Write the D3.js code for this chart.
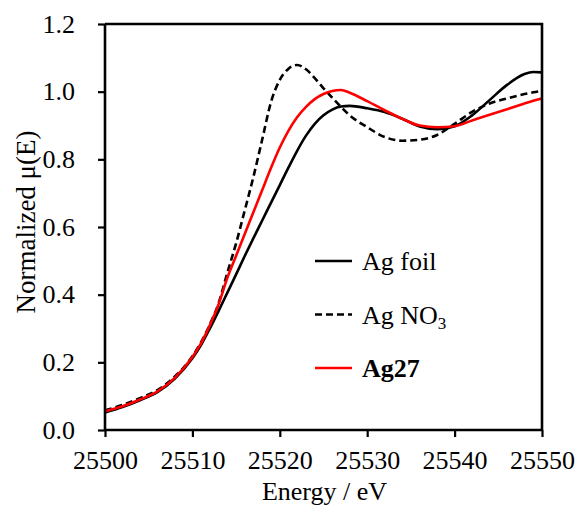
<!DOCTYPE html>
<html>
<head>
<meta charset="utf-8">
<script src="https://cdn.jsdelivr.net/npm/d3@7"></script>
<style>
  body { margin: 0; background: #fff; }
  svg { display: block; }
</style>
</head>
<body>
<div class="main"></div>
<script>
// energy grid (eV) and normalized mu(E)
var energy = [25500, 25502, 25504, 25506, 25508, 25510, 25511, 25512, 25513, 25514,
  25515, 25516, 25517, 25518, 25519, 25520, 25521, 25522, 25523, 25524,
  25525, 25526, 25527, 25528, 25530, 25532, 25534, 25536, 25538, 25540,
  25542, 25544, 25546, 25548, 25549, 25550];

var agFoil = [0.052, 0.068, 0.088, 0.112, 0.152, 0.212, 0.252, 0.300, 0.352, 0.406,
  0.460, 0.515, 0.568, 0.620, 0.672, 0.724, 0.776, 0.826, 0.870, 0.905,
  0.930, 0.947, 0.956, 0.958, 0.951, 0.940, 0.920, 0.897, 0.889, 0.898,
  0.930, 0.975, 1.020, 1.052, 1.058, 1.057];

var agNO3 = [0.058, 0.074, 0.094, 0.118, 0.158, 0.218, 0.260, 0.312, 0.375, 0.465,
  0.552, 0.650, 0.750, 0.860, 0.970, 1.035, 1.068, 1.079, 1.066, 1.040,
  1.010, 0.982, 0.955, 0.930, 0.895, 0.866, 0.855, 0.858, 0.872, 0.905,
  0.940, 0.965, 0.980, 0.993, 0.998, 1.002];

var ag27 = [0.055, 0.070, 0.090, 0.114, 0.155, 0.216, 0.257, 0.310, 0.372, 0.450,
  0.515, 0.580, 0.645, 0.710, 0.775, 0.835, 0.885, 0.925, 0.955, 0.978,
  0.993, 1.002, 1.005, 0.997, 0.972, 0.945, 0.920, 0.900, 0.895, 0.898,
  0.915, 0.932, 0.948, 0.965, 0.973, 0.980];

var xTicks = [25500, 25510, 25520, 25530, 25540, 25550];
var yTicks = [0.0, 0.2, 0.4, 0.6, 0.8, 1.0, 1.2];

var series = [
  { name: "Ag foil", values: agFoil, color: "#000", dash: null, bold: false },
  { name: "Ag NO", sub: "3", values: agNO3, color: "#000", dash: "7,4", bold: false },
  { name: "Ag27", values: ag27, color: "#ff0000", dash: null, bold: true }
];

var margin = { top: 24, right: 35, bottom: 78, left: 105 };
var fullwidth = 577, fullheight = 508;
var width = fullwidth - margin.left - margin.right;
var height = fullheight - margin.top - margin.bottom;
var fontFamily = "Liberation Serif";
var fontSize = 26;

var svg = d3.select(".main")
  .append("svg")
  .attr("width", fullwidth)
  .attr("height", fullheight)
  .attr("font-family", fontFamily)
  .append("g")
  .attr("transform", "translate(" + margin.left + "," + margin.top + ")");

var x = d3.scaleLinear().domain([25500, 25550]).range([0, width]);
var y = d3.scaleLinear().domain([0, 1.2]).range([height, 0]);

// curves
var line = d3.line()
  .x(function(d) { return x(d[0]); })
  .y(function(d) { return y(d[1]); })
  .curve(d3.curveMonotoneX);

series.forEach(function(s) {
  svg.append("path")
    .datum(energy.map(function(e, i) { return [e, s.values[i]]; }))
    .attr("fill", "none")
    .attr("stroke", s.color)
    .attr("stroke-width", 2.6)
    .attr("stroke-dasharray", s.dash)
    .attr("d", line);
});

// frame (top + right)
svg.append("path")
  .attr("d", "M0,0H" + width + "V" + height)
  .attr("fill", "none")
  .attr("stroke", "#000")
  .attr("stroke-width", 2.6);

// axes
var xAxis = svg.append("g")
  .attr("transform", "translate(0," + height + ")")
  .call(d3.axisBottom(x).tickValues(xTicks).tickSize(7).tickPadding(14).tickFormat(d3.format("d")));

var yAxis = svg.append("g")
  .call(d3.axisLeft(y).tickValues(yTicks).tickSize(7).tickPadding(23).tickFormat(d3.format(".1f")));

[xAxis, yAxis].forEach(function(a) {
  a.attr("font-family", fontFamily).attr("font-size", fontSize);
  a.select(".domain").attr("stroke-width", 2.6).attr("d",
    a === xAxis ? "M0,0H" + width : "M0,0V" + height);
  a.selectAll(".tick line").attr("stroke-width", 2.2);
  a.selectAll(".tick text")
    .attr("font-family", fontFamily)
    .attr("font-size", fontSize)
    .attr("fill", "#000");
});

// axis titles
svg.append("text")
  .attr("x", width / 2 + 1)
  .attr("y", height + 70)
  .attr("text-anchor", "middle")
  .attr("font-family", fontFamily)
  .attr("font-size", fontSize)
  .text("Energy / eV");

svg.append("text")
  .attr("transform", "translate(" + (-margin.left + 35) + "," + (height / 2 - 5) + ") rotate(-90)")
  .attr("text-anchor", "middle")
  .attr("font-family", fontFamily)
  .attr("font-size", 27)
  .text("Normalized μ(E)");

// legend
var legend = svg.append("g").attr("transform", "translate(210,237)");
series.forEach(function(s, i) {
  var g = legend.append("g").attr("transform", "translate(0," + (i * 53.5) + ")");
  g.append("line")
    .attr("x1", 0).attr("x2", 37)
    .attr("stroke", s.color)
    .attr("stroke-width", 2.6)
    .attr("stroke-dasharray", s.dash);
  var t = g.append("text")
    .attr("x", 47)
    .attr("dy", "0.35em")
    .attr("font-family", fontFamily)
    .attr("font-size", fontSize)
    .attr("font-weight", s.bold ? "bold" : "normal")
    .text(s.name);
  if (s.sub) {
    t.append("tspan")
      .attr("font-size", 17)
      .attr("dy", "0.3em")
      .text(s.sub);
  }
});
</script>
</body>
</html>
